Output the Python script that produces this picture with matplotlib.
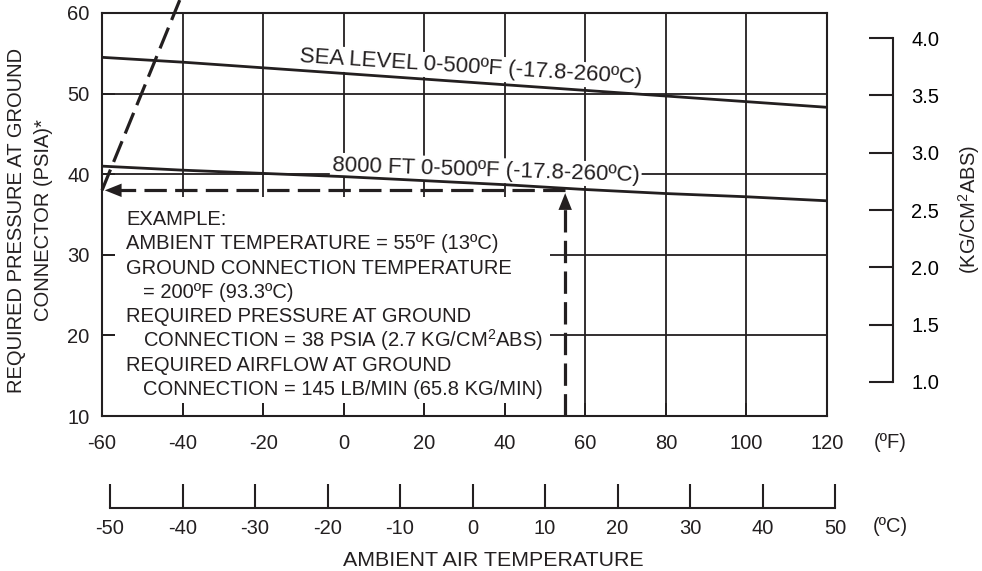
#!/usr/bin/env python3
"""
required ground-connector pressure vs ambient temperature
"""

import numpy as np
import matplotlib
matplotlib.use("Agg")
import matplotlib.pyplot as plt
from matplotlib.patches import Rectangle

TEMP_F      = [-60, -40, -20, 0, 20, 40, 60, 80, 100, 120]
SEA_LEVEL   = [54.5, 53.9, 53.2, 52.5, 51.8, 51.1, 50.4, 49.7, 49.0, 48.3]
FT_8000     = [41.0, 40.5, 40.1, 39.7, 39.2, 38.7, 38.1, 37.6, 37.2, 36.7]

# example path
EX_TEMP_F   = 55
EX_PSIA     = 38
EX_GROUND   = [(-60, 38), (-40.7, 61.6)]   # line heading to the next chart

PSI_TICKS   = [10, 20, 30, 40, 50, 60]
F_TICKS     = [-60, -40, -20, 0, 20, 40, 60, 80, 100, 120]
C_TICKS     = [-50, -40, -30, -20, -10, 0, 10, 20, 30, 40, 50]
KG_TICKS    = [1.0, 1.5, 2.0, 2.5, 3.0, 3.5, 4.0]

EXAMPLE_LINES = [
    (0,  "EXAMPLE:"),
    (0,  "AMBIENT TEMPERATURE = 55ºF (13ºC)"),
    (0,  "GROUND CONNECTION TEMPERATURE"),
    (1,  "= 200ºF (93.3ºC)"),
    (0,  "REQUIRED PRESSURE AT GROUND"),
    (1,  "CONNECTION = 38 PSIA (2.7 KG/CM$^2$ABS)"),
    (0,  "REQUIRED AIRFLOW AT GROUND"),
    (1,  "CONNECTION = 145 LB/MIN (65.8 KG/MIN)"),
]

K = "#231f20"
PSI_PER_KG = 14.223
FS = 14.5

plt.rcParams['font.family'] = ['Liberation Sans', 'DejaVu Sans']
plt.rcParams['mathtext.fontset'] = 'custom'
plt.rcParams['mathtext.rm'] = 'Liberation Sans'
plt.rcParams['mathtext.default'] = 'regular'
plt.rcParams['axes.unicode_minus'] = False
plt.rcParams['font.size'] = FS
plt.rcParams['text.color'] = K


if __name__ == "__main__":
    W, H = 982, 571
    fig = plt.figure(figsize=(W / 100, H / 100), dpi=100)
    L, R, T, B = 102, 827, 13, 416   # plot box in pixels
    ax = fig.add_axes([L / W, 1 - B / H, (R - L) / W, (B - T) / H])

    ax.set_xlim(-60, 120)
    ax.set_ylim(10, 60)
    ax.set_xticks(F_TICKS)
    ax.set_yticks(PSI_TICKS)
    ax.set_axisbelow(True)
    ax.grid(True, color=K, lw=1.3)
    ax.tick_params(direction='in', length=9.5, width=1.3, color=K,
                   labelcolor=K, labelsize=FS)
    ax.tick_params(axis='x', pad=13)
    ax.tick_params(axis='y', pad=9)
    for s in ax.spines.values():
        s.set_color(K)
        s.set_linewidth(1.5)

    # white box for the example text, hides the grid
    px = lambda p: (p - L) / (R - L)
    py = lambda p: (B - p) / (B - T)
    ax.add_patch(Rectangle((px(115), py(403)), px(550) - px(115), py(197) - py(403),
                           transform=ax.transAxes, facecolor='white',
                           edgecolor='none', zorder=1))

    ax.plot(TEMP_F, SEA_LEVEL, color=K, lw=2.0, zorder=3)
    ax.plot(TEMP_F, FT_8000, color=K, lw=2.0, zorder=3)

    bb = dict(facecolor='white', edgecolor='none', pad=1.5)
    ax.text(31.6, 53.25, "SEA LEVEL 0-500ºF (-17.8-260ºC)", rotation=-3.6,
            fontsize=16, ha='center', va='center', rotation_mode='anchor',
            bbox=bb, zorder=2)
    ax.text(35.3, 40.5, "8000 FT 0-500ºF (-17.8-260ºC)", rotation=-1.9,
            fontsize=16, ha='center', va='center', rotation_mode='anchor',
            bbox=bb, zorder=2)

    # example path
    dash = dict(color=K, lw=2.3, dashes=(7, 2.6), zorder=4)
    ax.plot([EX_TEMP_F, EX_TEMP_F], [10, EX_PSIA - 1.2], **dash)
    ax.plot([EX_TEMP_F, -58.5], [EX_PSIA, EX_PSIA], **dash)
    gx, gy = zip(*EX_GROUND)
    ax.plot(gx, gy, clip_on=False, **dash)
    arr = dict(arrowstyle='-|>,head_length=0.55,head_width=0.22', color=K, lw=0,
               mutation_scale=22)
    ax.annotate("", xy=(EX_TEMP_F, EX_PSIA), xytext=(EX_TEMP_F, EX_PSIA - 2.5),
                arrowprops=arr, zorder=5)
    ax.annotate("", xy=(-60, EX_PSIA), xytext=(-55, EX_PSIA),
                arrowprops=arr, zorder=5)

    base = 225
    for i, (indent, line) in enumerate(EXAMPLE_LINES):
        x0 = 143 if indent else 126
        ax.text(px(x0), py(base + i * 24.3), line, transform=ax.transAxes,
                ha='left', va='baseline', zorder=3)

    # kg/cm2 scale
    sec_y = ax.secondary_yaxis(px(893), functions=(lambda p: p / PSI_PER_KG,
                                                   lambda k: k * PSI_PER_KG))
    sec_y.set_yticks(KG_TICKS)
    sec_y.set_yticklabels(["%.1f" % k for k in KG_TICKS])
    sec_y.tick_params(direction='in', length=17, width=1.5, color=K, pad=13,
                      labelsize=FS)
    sec_y.spines['right'].set_bounds(KG_TICKS[0], KG_TICKS[-1])
    sec_y.spines['right'].set_linewidth(1.5)
    sec_y.spines['right'].set_color(K)

    # celsius scale: own axes, same px/deg as the F scale, runs a bit past 120F
    f_lo, f_hi = -60, 50 * 1.8 + 32
    cw = (R - L) * (f_hi - f_lo) / 180.0
    axc = fig.add_axes([L / W, 1 - 508 / H, cw / W, 0.001])
    axc.set_xlim((f_lo - 32) / 1.8, (f_hi - 32) / 1.8)
    axc.set_xticks(C_TICKS)
    axc.set_yticks([])
    axc.patch.set_visible(False)
    for n in ['top', 'left', 'right']:
        axc.spines[n].set_visible(False)
    axc.spines['bottom'].set_bounds(C_TICKS[0], C_TICKS[-1])
    axc.spines['bottom'].set_linewidth(1.5)
    axc.spines['bottom'].set_color(K)
    axc.tick_params(direction='in', length=17, width=1.5, color=K, pad=8,
                    labelcolor=K, labelsize=FS)

    # labels
    fig.text(17 / W, 1 - 220 / H, "REQUIRED PRESSURE AT GROUND", rotation=90,
             ha='center', va='center')
    fig.text(44 / W, 1 - 220 / H, "CONNECTOR (PSIA)*", rotation=90,
             ha='center', va='center')
    fig.text(969 / W, 1 - 210 / H, "(KG/CM$^2$ABS)", rotation=90,
             ha='center', va='center')
    fig.text(890 / W, 1 - 442 / H, "(ºF)", ha='center', va='center')
    fig.text(890 / W, 1 - 527 / H, "(ºC)", ha='center', va='center')
    fig.text(493 / W, 1 - 560 / H, "AMBIENT AIR TEMPERATURE", fontsize=15.4,
             ha='center', va='center')

    fig.savefig("out.png", dpi=100)
